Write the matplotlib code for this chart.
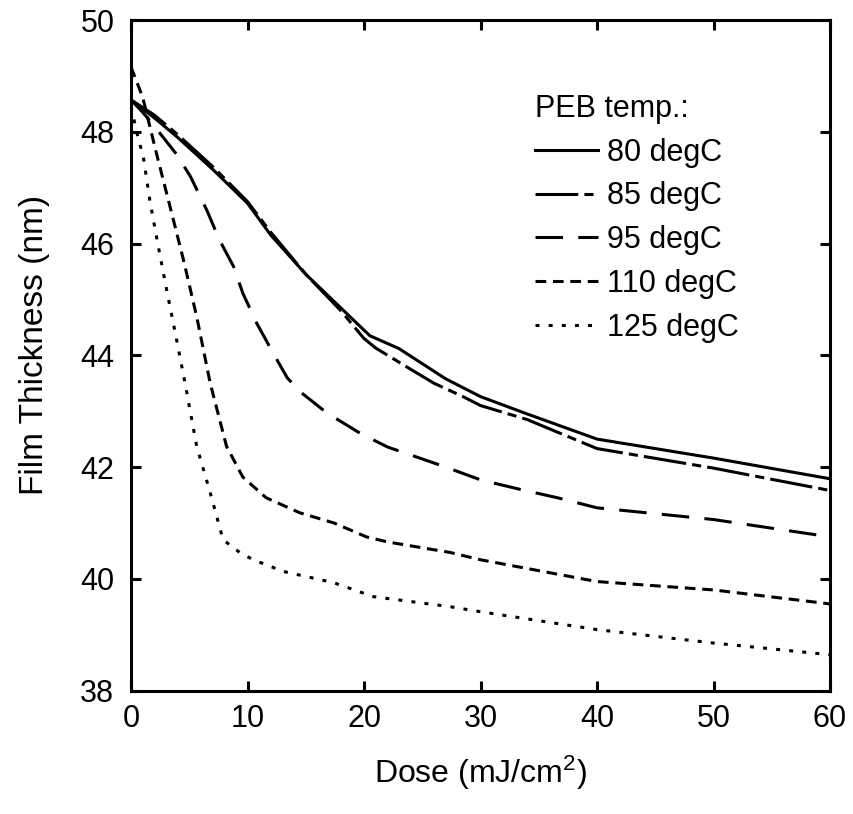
import numpy as np
import matplotlib
matplotlib.use('Agg')
import matplotlib.pyplot as plt

plt.rcParams['font.family'] = ['Liberation Sans', 'DejaVu Sans']
plt.rcParams['mathtext.default'] = 'regular'

# film thickness vs dose
dose_80 = [0, 2, 4, 7, 10, 12, 15, 18, 20.5, 23, 27, 30, 34, 40, 50, 60]
thk_80 = [48.57, 48.25, 47.9, 47.33, 46.72, 46.15, 45.45, 44.85, 44.35, 44.12, 43.58, 43.26, 42.95, 42.5, 42.16, 41.79]

dose_85 = [0, 2, 4, 7, 10, 12, 15, 18, 20, 21, 24, 26, 28.5, 30, 34, 40, 50, 60]
thk_85 = [48.57, 48.3, 47.95, 47.38, 46.75, 46.2, 45.45, 44.8, 44.3, 44.13, 43.75, 43.5, 43.26, 43.1, 42.85, 42.33, 41.98, 41.58]

dose_95 = [0, 1, 2, 3.9, 5.1, 6.5, 7.6, 8.8, 9.6, 10.8, 12.2, 13.4, 14.5, 16.8, 19.7, 22, 27, 30, 33.4, 36.6, 40, 50, 60]
thk_95 = [48.57, 48.35, 48.1, 47.6, 47.2, 46.6, 46.06, 45.59, 45.11, 44.57, 44.04, 43.6, 43.35, 42.97, 42.6, 42.36, 42.0, 41.77, 41.6, 41.45, 41.27, 41.06, 40.75]

dose_110 = [0, 1.0, 2.2, 3.35, 4.5, 5.64, 6.8, 8.2, 9.6, 11.6, 14.5, 17.4, 20.2, 22, 27.4, 30, 40, 50, 60]
thk_110 = [49.16, 48.62, 47.6, 46.66, 45.71, 44.69, 43.5, 42.37, 41.82, 41.45, 41.18, 41.0, 40.75, 40.66, 40.47, 40.34, 39.95, 39.8, 39.55]

dose_125 = [0, 0.6, 1.06, 1.63, 2.35, 3.06, 3.78, 4.64, 5.64, 6.8, 7.9, 9.4, 10.5, 13.1, 17.4, 20.8, 27.4, 30, 40, 50, 60]
thk_125 = [48.45, 47.9, 47.55, 46.75, 45.94, 45.17, 44.42, 43.5, 42.37, 41.54, 40.7, 40.46, 40.34, 40.13, 39.93, 39.68, 39.5, 39.41, 39.09, 38.85, 38.64]

labels = ['80 degC', '85 degC', '95 degC', '110 degC', '125 degC']

fig = plt.figure(figsize=(8.54, 8.14), dpi=100)
ax = fig.add_axes([0.1534, 0.1517, 0.8185, 0.8237])

lw = 2.2
ax.plot(dose_80, thk_80, color='black', lw=lw, ls='-', label=labels[0])
ax.plot(dose_85, thk_85, color='black', lw=lw, ls=(0, (14, 2, 3, 2)), label=labels[1])
ax.plot(dose_95, thk_95, color='black', lw=lw, ls=(0, (9, 5)), label=labels[2])
ax.plot(dose_110, thk_110, color='black', lw=lw, ls=(0, (3.5, 2.2)), label=labels[3])
ax.plot(dose_125, thk_125, color='black', lw=lw, ls=(0, (1.3, 3)), label=labels[4])

ax.set_xlim(0, 60)
ax.set_ylim(38, 50)
ax.set_xticks(np.arange(0, 61, 10))
ax.set_yticks(np.arange(38, 51, 2))
ax.tick_params(direction='in', length=7, width=2.2, top=True, right=True,
               labelsize=22)
ax.tick_params(axis='x', pad=10)
ax.tick_params(axis='y', pad=12)
for s in ax.spines.values():
    s.set_linewidth(2.2)

ax.set_xlabel('Dose (mJ/cm$^2$)', fontsize=23, labelpad=14)
ax.set_ylabel('Film Thickness (nm)', fontsize=24)
ax.yaxis.set_label_coords(-0.116, 0.515)

leg = ax.legend(title='PEB temp.:', loc='upper left', bbox_to_anchor=(0.578, 0.89),
                frameon=False, fontsize=22, title_fontsize=22, handlelength=2.05,
                handletextpad=0.3, labelspacing=0.45, borderpad=0, borderaxespad=0,
                alignment='left')

fig.savefig('out.png', dpi=100)
